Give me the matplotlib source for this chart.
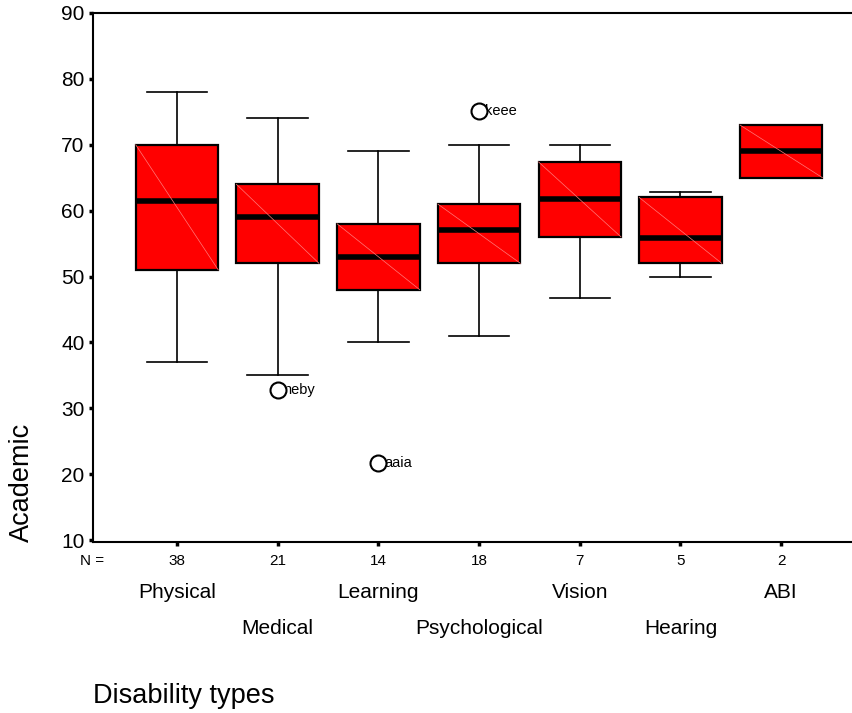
import matplotlib
matplotlib.use('Agg')
import matplotlib.pyplot as plt
from matplotlib.transforms import blended_transform_factory

plt.rcParams['font.family'] = ['Liberation Sans', 'DejaVu Sans']

# box statistics
categories = ['Physical', 'Medical', 'Learning', 'Psychological', 'Vision', 'Hearing', 'ABI']
counts = [38, 21, 14, 18, 7, 5, 2]
whisker_low = [37, 35, 40, 41, 46.7, 50, 65]
q1 = [51, 52, 48, 52, 56, 52, 65]
medians = [61.5, 59, 53, 57, 61.8, 55.9, 69]
q3 = [70, 64, 58, 61, 67.4, 62, 73]
whisker_high = [78, 74, 69, 70, 70, 62.9, 73]

# outliers: (category index, value, case label)
outlier_cat = [1, 2, 3]
outlier_val = [32.8, 21.7, 75.1]
outlier_lbl = ['neby', 'aaia', 'keee']

positions = list(range(1, len(categories) + 1))

fig = plt.figure(figsize=(8.53, 7.13), dpi=100)
ax = fig.add_axes([93 / 853, 1 - 542 / 713, 1 - 93 / 853, 529 / 713])

stats = []
for i in range(len(categories)):
    stats.append({'whislo': whisker_low[i], 'q1': q1[i], 'med': medians[i],
                  'q3': q3[i], 'whishi': whisker_high[i], 'fliers': []})

ax.bxp(stats, positions=positions, widths=0.82, capwidths=0.6,
       patch_artist=True, showfliers=False,
       boxprops=dict(facecolor='#ff0000', edgecolor='black', linewidth=1.6),
       medianprops=dict(color='black', linewidth=4, solid_capstyle='butt'),
       whiskerprops=dict(color='black', linewidth=1.2),
       capprops=dict(color='black', linewidth=1.2))

# faint diagonal rendering line inside each box
for i, p in enumerate(positions):
    ax.plot([p - 0.41, p + 0.41], [q3[i], q1[i]], color='#ff7a7a', lw=0.5, zorder=3)

# outliers with case labels
for c, v, lbl in zip(outlier_cat, outlier_val, outlier_lbl):
    ax.annotate(lbl, (positions[c], v), xytext=(4, 0), textcoords='offset points',
                fontsize=10.5, va='center', ha='left', zorder=4)
    ax.plot(positions[c], v, 'o', markersize=11.5, markerfacecolor='white',
            markeredgecolor='black', markeredgewidth=1.5, zorder=5)

ax.set_xlim(0.166, 7.713)
ax.set_ylim(9.7, 90)
ax.set_yticks(range(10, 91, 10))
ax.set_xticks(positions)
ax.set_xticklabels([])
ax.tick_params(axis='y', direction='out', length=3, width=2.5, labelsize=15, pad=3)
ax.tick_params(axis='x', direction='out', length=3, width=2.5)
ax.spines['right'].set_visible(False)
for s in ['left', 'bottom', 'top']:
    ax.spines[s].set_linewidth(1.5)

trans = blended_transform_factory(ax.transData, ax.transAxes)
ax.text(0.155, -19 / 529, 'N =', transform=trans, ha='center', va='center', fontsize=11)
for i, p in enumerate(positions):
    ax.text(p, -19 / 529, str(counts[i]), transform=trans, ha='center', va='center',
            fontsize=11)
    row_y = -51 / 529 if i % 2 == 0 else -87 / 529
    ax.text(p, row_y, categories[i], transform=trans, ha='center', va='center',
            fontsize=15)

fig.text(22 / 853, 1 - 482 / 713, 'Academic', rotation=90, ha='center', va='center',
         fontsize=19.5)
fig.text(93 / 853, 1 - 703 / 713, 'Disability types', ha='left', va='baseline',
         fontsize=19.5)

fig.savefig('out.png', dpi=100)
